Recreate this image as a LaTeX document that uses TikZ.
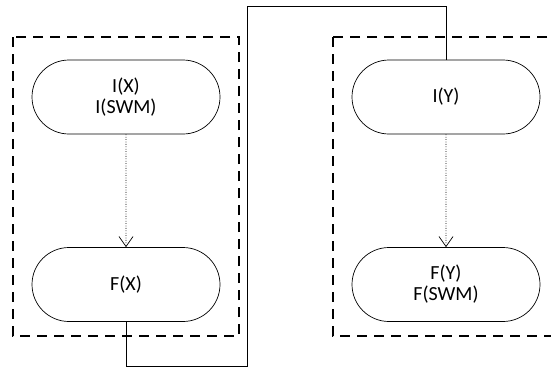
\documentclass[tikz,border=0pt]{standalone}
\usepackage{fontspec}
\setmainfont{Carlito}
\usetikzlibrary{shapes.misc,arrows.meta}
\begin{document}
\begin{tikzpicture}[x=1pt,y=-1pt,
  term/.style={draw, rounded rectangle, minimum width=188pt, minimum height=74pt, inner sep=0pt, align=center, font=\fontsize{20}{21}\selectfont, line width=0.7pt},
  grp/.style={draw, line width=1.6pt, dash pattern=on 10pt off 7pt},
  flow/.style={line width=0.7pt, dash pattern=on 0.8pt off 1.6pt, -{Straight Barb[length=10pt,width=14pt,line width=0.7pt]}},
  link/.style={line width=0.8pt}]
\clip (0,0) rectangle (551,367);
\draw[grp] (13,37) rectangle (239,336);
\draw[grp] (333,37) rectangle (600,336);
\node[term] (ix) at (126,97) {I(X)\\I(SWM)};
\node[term] (fx) at (126,284.5) {F(X)};
\node[term] (iy) at (446,97) {I(Y)};
\node[term] (fy) at (446,284.5) {F(Y)\\F(SWM)};
\draw[flow] (ix) -- (fx);
\draw[flow] (iy) -- (fy);
\coordinate (c1) at (247,366);
\coordinate (c2) at (247,6);
\draw[link] (fx.south) |- (c1) -- (c2) -| (iy.north);
\end{tikzpicture}
\end{document}
